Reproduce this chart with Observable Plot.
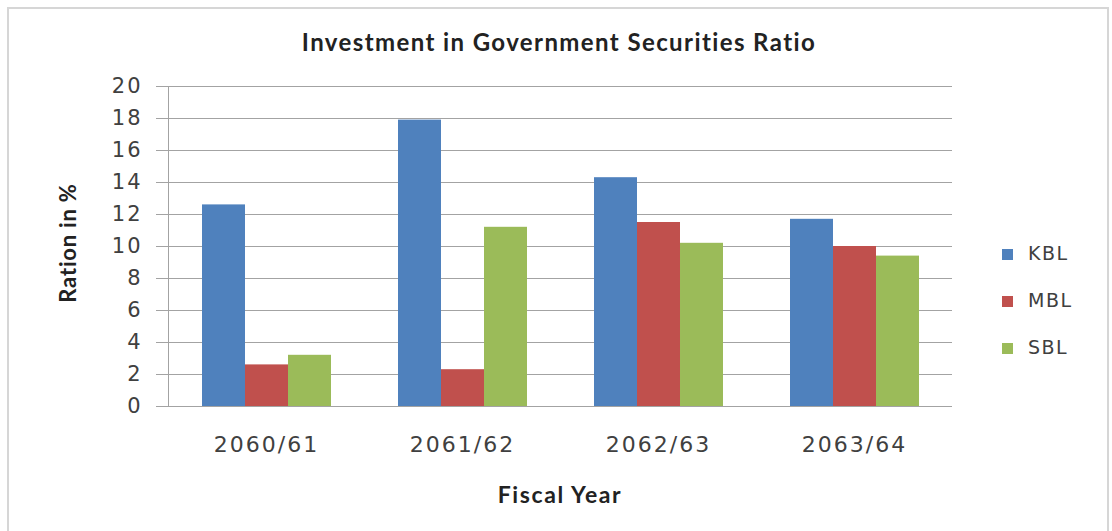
<!DOCTYPE html>
<html><head><meta charset="utf-8">
<script src="https://cdn.jsdelivr.net/npm/d3@7"></script>
<script src="https://cdn.jsdelivr.net/npm/@observablehq/plot@0.6"></script>
<style>
html,body{margin:0;padding:0;background:#fff;overflow:hidden}
#wrap{position:relative;width:1112px;height:531px;overflow:hidden;background:#fff}
#border{position:absolute;left:7px;top:7px;width:1102px;height:540px;border:2px solid #d6d6d6;box-sizing:border-box}
#title{position:absolute;left:0;width:1118px;top:27px;text-align:center;font-family:Lato;font-weight:bold;font-size:24px;letter-spacing:1.4px;color:#222}
#xlabel{position:absolute;left:0;width:1120px;top:480px;text-align:center;font-family:Lato;font-weight:bold;font-size:23px;letter-spacing:1.6px;color:#222}
#ylabel{position:absolute;left:67px;top:243px;transform:translate(-50%,-50%) rotate(-90deg);white-space:nowrap;font-family:Lato;font-weight:bold;font-size:22px;letter-spacing:0.8px;color:#222}
#chart{position:absolute;left:0;top:0}
.leg{position:absolute;left:1002px;font-family:"DejaVu Sans";font-size:19px;letter-spacing:1.5px;color:#404040;height:20px;line-height:20px}
.leg span{display:inline-block;width:11px;height:11px;margin-right:15px;vertical-align:0px}
</style>
</head><body>
<div id="wrap">
  <div id="border"></div>
  <div id="chart"></div>
  <div id="title">Investment in Government Securities Ratio</div>
  <div id="xlabel">Fiscal Year</div>
  <div id="ylabel">Ration in %</div>
  <div id="legend"></div>
</div>
<script>
const years = ["2060/61", "2061/62", "2062/63", "2063/64"];
const banks = ["KBL", "MBL", "SBL"];
const kbl = [12.6, 17.9, 14.3, 11.7];
const mbl = [2.6, 2.3, 11.5, 10.0];
const sbl = [3.2, 11.2, 10.2, 9.4];
const yTicks = [0, 2, 4, 6, 8, 10, 12, 14, 16, 18, 20];
const colors = ["#4F81BD", "#C0504D", "#9BBB59"];
const legendTops = [243, 290, 337];

const series = {KBL: kbl, MBL: mbl, SBL: sbl};
const data = years.flatMap((y, i) => banks.map(b => ({year: y, bank: b, value: series[b][i]})));

const chart = Plot.plot({
  width: 1112,
  height: 531,
  marginLeft: 167,
  marginRight: 159,
  marginTop: 86,
  marginBottom: 125,
  style: {fontFamily: "DejaVu Sans", fontSize: "22px", letterSpacing: "2px", background: "transparent"},
  fx: {domain: years, padding: 0, label: null},
  x: {domain: banks, paddingInner: 0, paddingOuter: 0.773, axis: null},
  y: {domain: [0, 20], label: null},
  color: {domain: banks, range: colors},
  marks: [
    Plot.gridY(yTicks, {stroke: "#a3a3a3", strokeOpacity: 1}),
    Plot.barY(data, {fx: "year", x: "bank", y: "value", fill: "bank"}),
    Plot.ruleY([0], {stroke: "#a3a3a3"}),
    Plot.frame({anchor: "left", stroke: "#a3a3a3", facetAnchor: "left"}),
    Plot.axisY(yTicks, {tickSize: 12, tickPadding: 14, fontSize: 21, stroke: "#a3a3a3", fill: "#404040", label: null}),
    Plot.axisFx({anchor: "bottom", tickSize: 0, tickPadding: 30, label: null, fill: "#404040"})
  ]
});
document.getElementById("chart").appendChild(chart);

const legend = document.getElementById("legend");
banks.forEach((b, i) => {
  const d = document.createElement("div");
  d.className = "leg";
  d.style.top = legendTops[i] + "px";
  d.innerHTML = `<span style="background:${colors[i]}"></span>${b}`;
  legend.appendChild(d);
});
</script>
</body></html>
